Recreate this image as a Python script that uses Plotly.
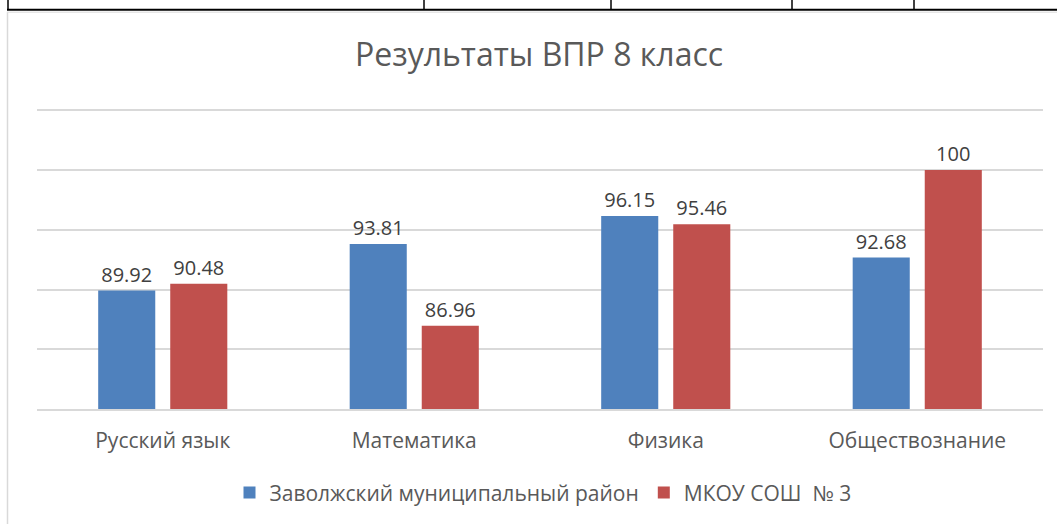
import plotly.graph_objects as go

categories = ["Русский язык", "Математика", "Физика", "Обществознание"]
series_names = ["Заволжский муниципальный район", "МКОУ СОШ  № 3"]
district = [89.92, 93.81, 96.15, 92.68]
school = [90.48, 86.96, 95.46, 100]
colors = ["#4F81BD", "#C0504D"]

W, H = 1057, 524
YMIN, YMAX = 80, 105.2
L, R, B = 37, 14, 114
T = 110 - (YMAX - 105) * 12
PW, PH = W - L - R, H - T - B

def px(x):
    return (x - L) / PW

def py(y):
    return (H - B - y) / PH

FONT = "Open Sans"

fig = go.Figure()
for name, vals, col in zip(series_names, [district, school], colors):
    fig.add_trace(go.Bar(
        x=categories, y=vals, name=name,
        marker=dict(color=col, line=dict(width=0)),
        text=[f"{v:g}" for v in vals], textposition="outside",
        textfont=dict(family=FONT, size=20, color="#404040"),
        cliponaxis=False,
    ))

shapes = []
# chart area border (light gray)
shapes.append(dict(type="line", xref="paper", yref="paper", x0=px(7.5), x1=px(7.5), y0=py(11), y1=py(530),
                   line=dict(color="#D9D9D9", width=1.5)))
shapes.append(dict(type="line", xref="paper", yref="paper", x0=px(7.5), x1=px(1060), y0=py(11.5), y1=py(11.5),
                   line=dict(color="#E6E6E6", width=1.5)))
# table lines (black)
shapes.append(dict(type="line", xref="paper", yref="paper", x0=px(7), x1=px(1060), y0=py(9), y1=py(9),
                   line=dict(color="#000000", width=2)))
for xv in [8, 424, 611, 792, 914]:
    shapes.append(dict(type="line", xref="paper", yref="paper", x0=px(xv), x1=px(xv), y0=py(-2), y1=py(9),
                       line=dict(color="#000000", width=1.5)))

fig.update_layout(
    width=W, height=H,
    margin=dict(l=L, r=R, t=T, b=B),
    paper_bgcolor="white", plot_bgcolor="white",
    barmode="group", bargap=0.427, bargroupgap=0.208,
    title=dict(text="Результаты ВПР 8 класс", x=px(550), xanchor="center",
               y=1 - 55 / H, yanchor="middle",
               font=dict(family=FONT, size=32, color="#595959")),
    xaxis=dict(showline=True, linecolor="#D9D9D9", linewidth=1.5, ticks="",
               tickfont=dict(family=FONT, size=21, color="#595959"),
               ticklabelstandoff=12, showgrid=False),
    yaxis=dict(range=[YMIN, YMAX], tick0=80, dtick=5, showticklabels=False, showgrid=True,
               gridcolor="#D9D9D9", gridwidth=1.5, zeroline=False, showline=False),
    legend=dict(orientation="h", x=px(543), xanchor="center", y=py(493), yanchor="middle",
                font=dict(family=FONT, size=21, color="#595959"), itemsizing="constant",
                traceorder="normal"),
    shapes=shapes,
    showlegend=True,
)

fig.write_html("out.html", post_script="document.body.style.margin='0px';",
               config={"displayModeBar": False})
